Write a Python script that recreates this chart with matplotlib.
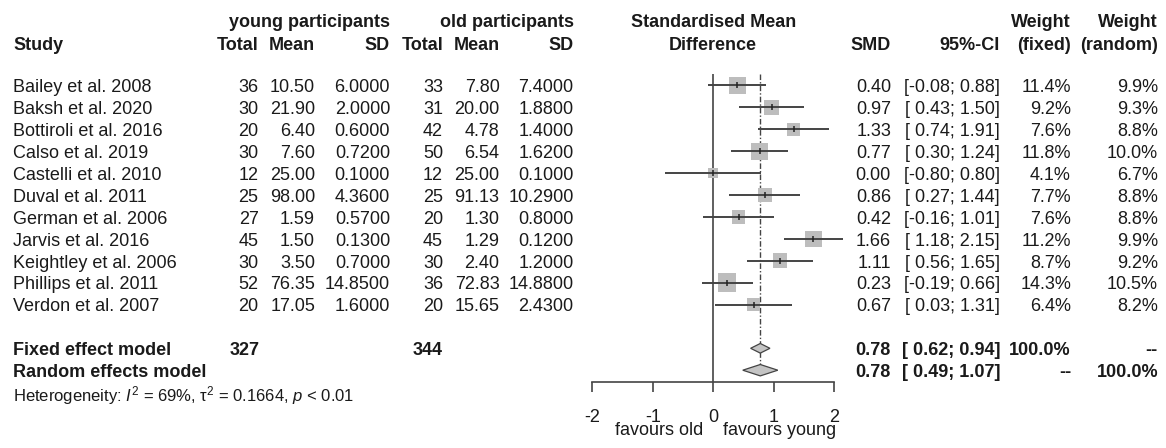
import matplotlib
matplotlib.use("Agg")
import matplotlib.pyplot as plt
import matplotlib.transforms as mtransforms
import numpy as np

# ---- study data -------------------------------------------------------------
studies = ["Bailey et al. 2008", "Baksh et al. 2020", "Bottiroli et al. 2016",
           "Calso et al. 2019", "Castelli et al. 2010", "Duval et al. 2011",
           "German et al. 2006", "Jarvis et al. 2016", "Keightley et al. 2006",
           "Phillips et al. 2011", "Verdon et al. 2007"]
young_n = [36, 30, 20, 30, 12, 25, 27, 45, 30, 52, 20]
young_mean = [10.50, 21.90, 6.40, 7.60, 25.00, 98.00, 1.59, 1.50, 3.50, 76.35, 17.05]
young_sd = [6.0, 2.0, 0.6, 0.72, 0.1, 4.36, 0.57, 0.13, 0.7, 14.85, 1.6]
old_n = [33, 31, 42, 50, 12, 25, 20, 45, 30, 36, 20]
old_mean = [7.80, 20.00, 4.78, 6.54, 25.00, 91.13, 1.30, 1.29, 2.40, 72.83, 15.65]
old_sd = [7.4, 1.88, 1.4, 1.62, 0.1, 10.29, 0.8, 0.12, 1.2, 14.88, 2.43]
smd = [0.40, 0.97, 1.33, 0.77, 0.00, 0.86, 0.42, 1.66, 1.11, 0.23, 0.67]
ci_low = [-0.08, 0.43, 0.74, 0.30, -0.80, 0.27, -0.16, 1.18, 0.56, -0.19, 0.03]
ci_high = [0.88, 1.50, 1.91, 1.24, 0.80, 1.44, 1.01, 2.15, 1.65, 0.66, 1.31]
weight_fixed = [11.4, 9.2, 7.6, 11.8, 4.1, 7.7, 7.6, 11.2, 8.7, 14.3, 6.4]
weight_random = [9.9, 9.3, 8.8, 10.0, 6.7, 8.8, 8.8, 9.9, 9.2, 10.5, 8.2]

# ---- pooled results ---------------------------------------------------------
total_young = 327
total_old = 344
fixed_smd, fixed_low, fixed_high = 0.78, 0.62, 0.94
random_smd, random_low, random_high = 0.78, 0.49, 1.07
i_squared = 69
tau_squared = 0.1664
p_text = "< 0.01"
x_ticks = [-2, -1, 0, 1, 2]

# ---- style ------------------------------------------------------------------
plt.rcParams["font.family"] = ["Liberation Sans", "DejaVu Sans"]
plt.rcParams["axes.unicode_minus"] = False
plt.rcParams["mathtext.fontset"] = "custom"
plt.rcParams["mathtext.rm"] = "Liberation Sans"
plt.rcParams["mathtext.it"] = "Liberation Sans:italic"
plt.rcParams["mathtext.bf"] = "Liberation Sans:bold"

TXT = "#1a1a1a"
LINE = "#444444"
SQUARE = "#bdbdbd"
FS = 13
W, H = 1166, 448

fig = plt.figure(figsize=(W / 100, H / 100), dpi=100)
fig.patch.set_facecolor("white")

# full-figure layer for the table text (pixel layout coordinates)
tax = fig.add_axes([0, 0, 1, 1])
tax.set_xlim(0, W)
tax.set_ylim(H, 0)
tax.axis("off")

ROW0, ROW_H = 85.5, 21.9          # centre of first study row, row spacing
BASE = 6.8                        # text baseline below the row centre


def row_center(r):
    return ROW0 + ROW_H * r


def put(x, r, s, ha="right", bold=False, size=FS):
    tax.text(x, row_center(r) + BASE, s, ha=ha, va="baseline", color=TXT,
             fontsize=size, fontweight="bold" if bold else "normal")


# column right edges
X_STUDY = 13
X_YN, X_YM, X_YS = 258.5, 315, 390
X_ON, X_OM, X_OS = 443, 499.5, 573.5
X_SMD, X_CI, X_WF, X_WR = 891, 1000, 1071, 1158

# headers
HEAD1, HEAD2 = 27, 49.5
hdr = dict(va="baseline", color=TXT, fontsize=FS, fontweight="bold")
tax.text(X_STUDY, HEAD2, "Study", ha="left", **hdr)
tax.text(X_YS, HEAD1, "young participants", ha="right", **hdr)
tax.text(X_OS, HEAD1, "old participants", ha="right", **hdr)
for x, s in [(X_YN, "Total"), (X_YM, "Mean"), (X_YS, "SD"),
             (X_ON, "Total"), (X_OM, "Mean"), (X_OS, "SD"),
             (X_SMD, "SMD"), (X_CI, "95%-CI"),
             (X_WF, "(fixed)"), (X_WR, "(random)")]:
    tax.text(x, HEAD2, s, ha="right", **hdr)
tax.text(X_WF, HEAD1, "Weight", ha="right", **hdr)
tax.text(X_WR, HEAD1, "Weight", ha="right", **hdr)


def ci_str(lo, hi):
    return f"[{lo:5.2f};{hi:5.2f}]"


# study rows
for i, name in enumerate(studies):
    put(X_STUDY, i, name, ha="left")
    put(X_YN, i, f"{young_n[i]}")
    put(X_YM, i, f"{young_mean[i]:.2f}")
    put(X_YS, i, f"{young_sd[i]:.4f}")
    put(X_ON, i, f"{old_n[i]}")
    put(X_OM, i, f"{old_mean[i]:.2f}")
    put(X_OS, i, f"{old_sd[i]:.4f}")
    put(X_SMD, i, f"{smd[i]:.2f}")
    put(X_CI, i, ci_str(ci_low[i], ci_high[i]))
    put(X_WF, i, f"{weight_fixed[i]:.1f}%")
    put(X_WR, i, f"{weight_random[i]:.1f}%")

n = len(studies)
r_fix, r_ran = n + 1, n + 2
put(X_STUDY, r_fix, "Fixed effect model", ha="left", bold=True)
put(X_YN + 1.5, r_fix, f"{total_young}", bold=True)
put(X_ON, r_fix, f"{total_old}", bold=True)
put(X_SMD, r_fix, f"{fixed_smd:.2f}", bold=True)
put(X_CI, r_fix, ci_str(fixed_low, fixed_high), bold=True)
put(X_WF, r_fix, "100.0%", bold=True)
put(X_WR, r_fix, "--", bold=True)

put(X_STUDY, r_ran, "Random effects model", ha="left", bold=True)
put(X_SMD, r_ran, f"{random_smd:.2f}", bold=True)
put(X_CI, r_ran, ci_str(random_low, random_high), bold=True)
put(X_WF, r_ran, "--", bold=True)
put(X_WR, r_ran, "100.0%", bold=True)

tax.text(X_STUDY, 401,
         r"Heterogeneity: $I^2$ = " + f"{i_squared}%, " +
         r"$\mathrm{\tau}^2$ = " + f"{tau_squared:.4f}, " + r"$p$ " + p_text,
         ha="left", va="baseline", color=TXT, fontsize=12)

# ---- forest panel -----------------------------------------------------------
AX_LEFT, AX_RIGHT = 592.3, 834.0   # pixel span of x = -2 .. 2
AXIS_Y, TOP_Y = 382, 74

fax = fig.add_axes([AX_LEFT / W, (H - AXIS_Y) / H,
                    (AX_RIGHT - AX_LEFT) / W, (AXIS_Y - TOP_Y) / H])
fax.set_xlim(x_ticks[0], x_ticks[-1])
fax.set_ylim((AXIS_Y - ROW0) / ROW_H, (TOP_Y - ROW0) / ROW_H)
fax.patch.set_visible(False)
for side in ("top", "left", "right"):
    fax.spines[side].set_visible(False)
fax.spines["bottom"].set_color(LINE)
fax.spines["bottom"].set_linewidth(1.2)
fax.set_yticks([])
fax.set_xticks(x_ticks)
fax.set_xticklabels([f"{t:d}" for t in x_ticks])
fax.tick_params(axis="x", direction="out", length=7.5, width=1.2, color=LINE,
                labelsize=FS, labelcolor=TXT, pad=12)

ymax_top = fax.get_ylim()[1]
fax.axvline(0, color=LINE, lw=1.2, zorder=1)
fax.plot([fixed_smd, fixed_smd], [ymax_top, r_ran - 0.25], color=LINE, lw=1.0,
         dashes=[4, 1.5, 1, 1.5], zorder=1)

rows = np.arange(n)
wf = np.array(weight_fixed)
side_px = 0.85 * ROW_H * np.sqrt(wf / wf.max())
side_pt = side_px * 72 / 100
fax.hlines(rows, ci_low, ci_high, color=LINE, lw=1.4, zorder=3, clip_on=False)
fax.scatter(smd, rows, marker="s", s=side_pt ** 2, color=SQUARE, linewidths=0,
            zorder=2, clip_on=False)
fax.scatter(smd, rows, marker="|", s=22, color="#222222", linewidths=1.1,
            zorder=4, clip_on=False)


def diamond(est, lo, hi, r, half):
    fax.fill([lo, est, hi, est], [r, r - half, r, r + half],
             facecolor="#c4c4c4", edgecolor="#444444", lw=0.9, zorder=3,
             clip_on=False)


diamond(fixed_smd, fixed_low, fixed_high, r_fix, 0.22)
diamond(random_smd, random_low, random_high, r_ran, 0.26)

# headline over the panel and direction labels below the axis
trans = mtransforms.blended_transform_factory(fax.transData, tax.transData)
tax.text(0, HEAD1, "Standardised Mean", transform=trans, ha="center", **hdr)
tax.text(0, HEAD2, "Difference", transform=trans, ha="center", **hdr)
tax.text(0, 435, "favours old", ha="right", va="baseline", color=TXT,
         fontsize=FS,
         transform=mtransforms.offset_copy(trans, fig=fig, x=-7.2, units="points"))
tax.text(0, 435, "favours young", ha="left", va="baseline", color=TXT,
         fontsize=FS,
         transform=mtransforms.offset_copy(trans, fig=fig, x=7.2, units="points"))

fig.savefig("out.png", dpi=100, facecolor="white")
